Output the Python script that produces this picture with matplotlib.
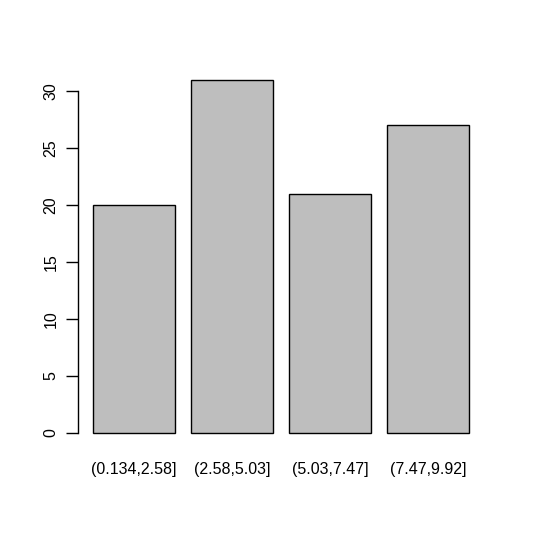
import matplotlib
matplotlib.use("Agg")
import matplotlib.pyplot as plt

categories = ["(0.134,2.58]", "(2.58,5.03]", "(5.03,7.47]", "(7.47,9.92]"]
counts = [20, 31, 21, 27]
yticks = [0, 5, 10, 15, 20, 25, 30]

plt.rcParams['font.family'] = ['Liberation Sans', 'DejaVu Sans']

W, H = 534, 535
fig = plt.figure(figsize=(W/100, H/100), dpi=100)
left, right, bottom, top = 78, 484, 447, 65.5
ax = fig.add_axes([left/W, 1 - bottom/H, (right-left)/W, (bottom-top)/H])

xs = [0.7 + 1.2*i for i in range(len(counts))]
ax.bar(xs, counts, width=1.0, color='#bebebe', edgecolor='black', linewidth=1.0)
ax.set_xlim(0.016, 4.984)
ax.set_ylim(-1.24, 32.24)

for s in ['top', 'right', 'bottom']:
    ax.spines[s].set_visible(False)
ax.spines['left'].set_bounds(0, 30)
ax.spines['left'].set_linewidth(1.0)
ax.set_yticks(yticks)
ax.set_yticklabels([str(v) for v in yticks], rotation=90, va='center', fontsize=11.5)
ax.tick_params(axis='y', length=9, width=1.0, pad=5)
ax.set_xticks(xs)
ax.set_xticklabels(categories, fontsize=11.5)
ax.tick_params(axis='x', length=0, pad=11)

fig.savefig("out.png", dpi=100)
